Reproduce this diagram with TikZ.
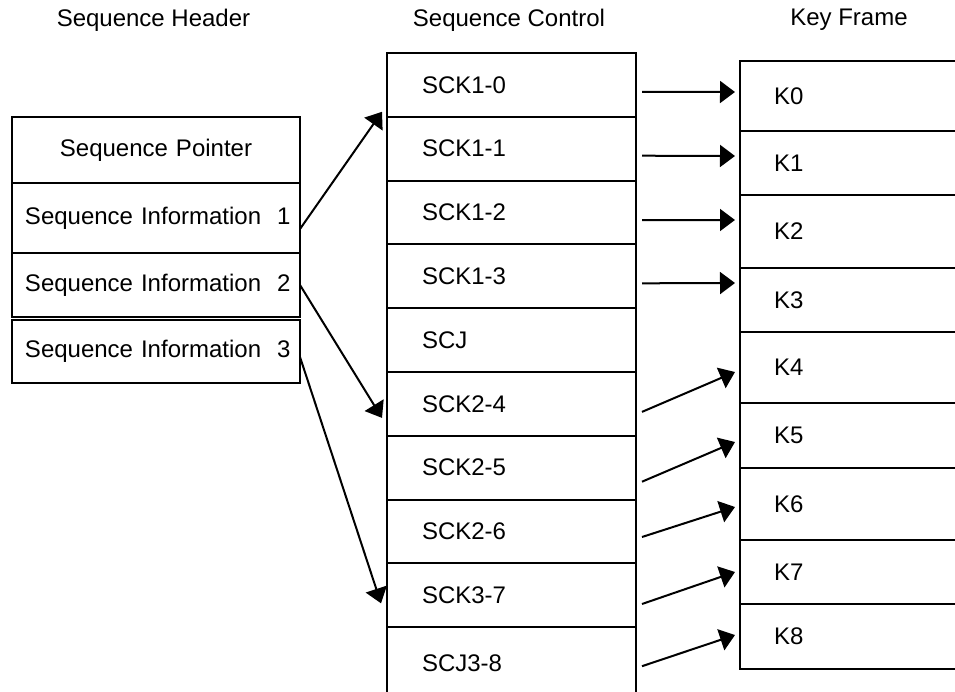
\documentclass[tikz,border=0pt]{standalone}
\usepackage{fontspec}
\setmainfont{Liberation Sans}
\usetikzlibrary{positioning,arrows.meta}

\begin{document}
\begin{tikzpicture}[x=0.5pt, y=-0.5pt,
    cell/.style={rectangle, draw, line width=1pt, outer sep=0pt, anchor=north west, font=\fontsize{12}{14}\selectfont},
    head/.style={font=\fontsize{12}{14}\selectfont, inner sep=0pt},
    seqbox/.style={cell, minimum width=144pt, inner xsep=6.5pt, text width=131pt, align=left},
    ctrl/.style={cell, minimum width=124.5pt, minimum height=31.9pt, inner xsep=17.5pt, text width=89.5pt, align=left},
    kbox/.style={cell, minimum width=125pt, inner xsep=17pt, text width=91pt, align=left},
    link/.style={-{Triangle[length=7.5pt, width=11pt]}, line width=1pt}
]
    \useasboundingbox (0,0) rectangle (955,692);
    \clip (0,0) rectangle (955,692);

    % column titles
    \node[head] (hsh) at (153.5,20) {Sequence Header};
    \node[head] (hsc) at (509,20) {Sequence Control};
    \node[head] (hkf) at (849,20) {Key Frame};

    % sequence header
    \node[seqbox, align=center, minimum height=33pt] (ptr) at (12,117) {Sequence Pointer};
    \node[seqbox, minimum height=35pt, below=0pt of ptr] (si1) {\mbox{Sequence Information\ \ 1}};
    \node[seqbox, minimum height=32pt, below=0pt of si1] (si2) {\mbox{Sequence Information\ \ 2}};
    \node[seqbox, minimum height=31.5pt, below=1.5pt of si2] (si3) {\mbox{Sequence Information\ \ 3}};

    % sequence control
    \node[ctrl] (sc0) at (387,53) {SCK1-0};
    \node[ctrl, below=0pt of sc0] (sc1) {SCK1-1};
    \node[ctrl, below=0pt of sc1] (sc2) {SCK1-2};
    \node[ctrl, below=0pt of sc2] (sc3) {SCK1-3};
    \node[ctrl, below=0pt of sc3] (scj) {SCJ};
    \node[ctrl, below=0pt of scj] (sc4) {SCK2-4};
    \node[ctrl, below=0pt of sc4] (sc5) {SCK2-5};
    \node[ctrl, below=0pt of sc5] (sc6) {SCK2-6};
    \node[ctrl, below=0pt of sc6] (sc7) {SCK3-7};
    \node[ctrl, minimum height=36pt, below=0pt of sc7] (sc8) {SCJ3-8};

    % key frames
    \node[kbox, minimum height=35pt] (k0) at (740,61) {K0};
    \node[kbox, minimum height=32pt, below=0pt of k0] (k1) {K1};
    \node[kbox, minimum height=36.5pt, below=0pt of k1] (k2) {K2};
    \node[kbox, minimum height=32pt, below=0pt of k2] (k3) {K3};
    \node[kbox, minimum height=35.5pt, below=0pt of k3] (k4) {K4};
    \node[kbox, minimum height=32.5pt, below=0pt of k4] (k5) {K5};
    \node[kbox, minimum height=36pt, below=0pt of k5] (k6) {K6};
    \node[kbox, minimum height=32pt, below=0pt of k6] (k7) {K7};
    \node[kbox, minimum height=32.5pt, below=0pt of k7] (k8) {K8};

    % header -> control
    \draw[link] ([yshift=-5.5pt]si1.east) -- ([xshift=-2.5pt,yshift=2.5pt]sc0.south west);
    \draw[link] (si2.east) -- ([xshift=-2.5pt,yshift=-7pt]sc4.west);
    \draw[link] ([yshift=-2.75pt]si3.east) -- ([xshift=-3pt,yshift=-4pt]sc7.west);

    % control -> key frame
    \draw[link] ([xshift=3pt,yshift=-3.5pt]sc0.east) -- ([xshift=-2.5pt,yshift=2pt]k0.west);
    \draw[link] ([xshift=3pt,yshift=-3.5pt]sc1.east) -- ([xshift=-2.5pt,yshift=3.5pt]k1.west);
    \draw[link] ([xshift=3pt,yshift=-3.75pt]sc2.east) -- ([xshift=-2.5pt,yshift=5.75pt]k2.west);
    \draw[link] ([xshift=3pt,yshift=-3.5pt]sc3.east) -- ([xshift=-2.5pt,yshift=8.5pt]k3.west);
    \draw[link] ([xshift=3pt,yshift=-4pt]sc4.east) -- ([xshift=-2.5pt,yshift=-2.25pt]k4.west);
    \draw[link] ([xshift=3pt,yshift=-7pt]sc5.east) -- ([xshift=-2.5pt,yshift=-3.25pt]k5.west);
    \draw[link] ([xshift=3pt,yshift=-2.75pt]sc6.east) -- ([xshift=-2.5pt,yshift=-1.5pt]k6.west);
    \draw[link] ([xshift=3pt,yshift=-4.35pt]sc7.east) -- ([xshift=-2.5pt]k7.west);
    \draw[link] ([xshift=3pt,yshift=-1.5pt]sc8.east) -- ([xshift=-2.5pt,yshift=0.75pt]k8.west);
\end{tikzpicture}
\end{document}
